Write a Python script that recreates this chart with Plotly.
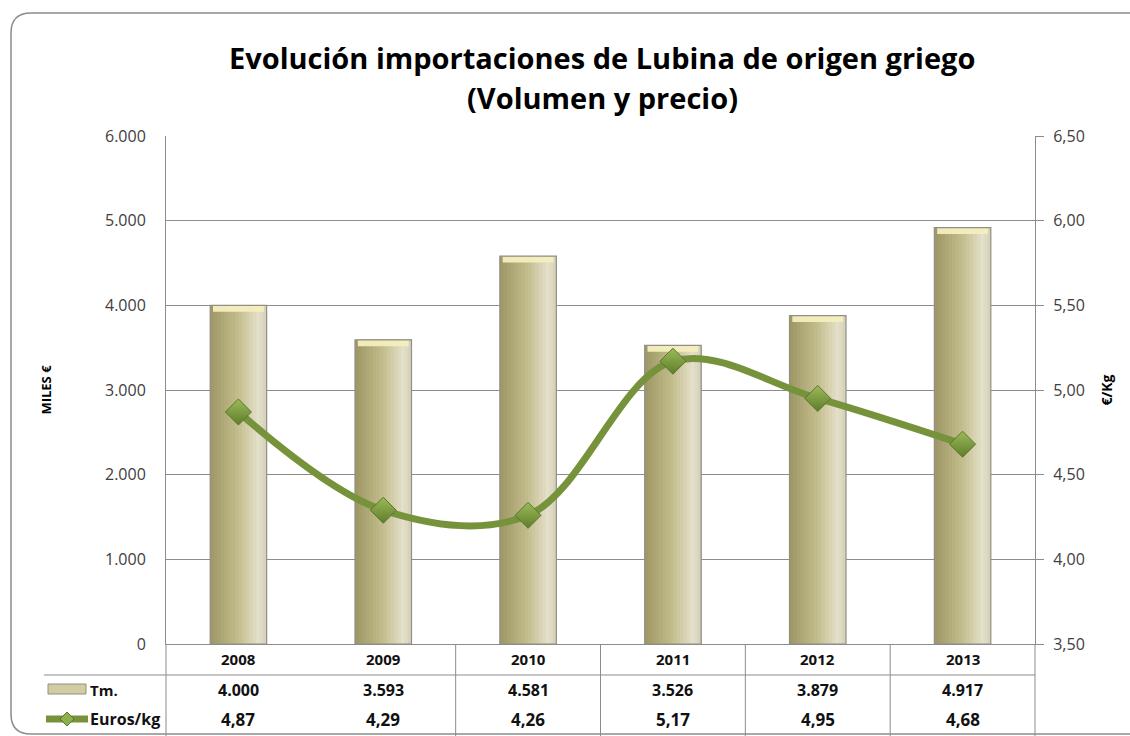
import plotly.graph_objects as go

years = ["2008", "2009", "2010", "2011", "2012", "2013"]
tm = [4000, 3593, 4581, 3526, 3879, 4917]
euros_kg = [4.87, 4.29, 4.26, 5.17, 4.95, 4.68]
left_ticks = [0, 1000, 2000, 3000, 4000, 5000, 6000]
right_ticks = [3.5, 4.0, 4.5, 5.0, 5.5, 6.0, 6.5]

W, H = 1130, 736
L, R, T, B = 166, 1035, 136, 644

def px(x, y):
    return (x - L) / (R - L), (B - y) / (B - T)

def fmt_thousands(v):
    return f"{v:,.0f}".replace(",", ".")

def fmt_dec(v):
    return f"{v:.2f}".replace(".", ",")

FONT = "Open Sans"
fig = go.Figure()

# bar gradient slices (each slice extends to right edge to avoid seams)
bw = 0.39
N = 16
stops = [(0.0, (158, 150, 100)), (0.5, (196, 190, 142)), (0.85, (228, 224, 202)), (1.0, (212, 208, 184))]
def grad(t):
    for (ta, ca), (tb, cb) in zip(stops[:-1], stops[1:]):
        if ta <= t <= tb:
            f = (t - ta) / (tb - ta)
            return tuple(int(ca[k] + (cb[k] - ca[k]) * f) for k in range(3))
    return stops[-1][1]
for i in range(N):
    t = (i + 0.5) / N
    col = grad(t)
    fig.add_trace(go.Bar(
        x=years, y=tm, width=bw - i * bw / N, offset=-bw / 2 + i * bw / N,
        marker=dict(color=f"rgb{col}", line=dict(width=0)),
        showlegend=False, hoverinfo="skip", yaxis="y"))
# top bevel
bev = 75
fig.add_trace(go.Bar(
    x=years, y=[bev] * len(tm), base=[v - bev for v in tm], width=bw * 0.9, offset=-bw * 0.45,
    marker=dict(color="rgba(244,238,190,0.95)", line=dict(width=0)),
    showlegend=False, hoverinfo="skip"))
# outline
fig.add_trace(go.Bar(
    x=years, y=tm, width=bw, offset=-bw / 2, name="Tm.",
    marker=dict(color="rgba(0,0,0,0)", line=dict(color="#8f8f86", width=1.2)),
    showlegend=False))

fig.add_trace(go.Scatter(
    x=years, y=euros_kg, yaxis="y2", name="Euros/kg",
    mode="lines+markers", line=dict(color="#76933c", width=7, shape="spline", smoothing=1),
    marker=dict(symbol="diamond", size=20, color="#9bbb59",
                gradient=dict(type="vertical", color="#5f7d2a"),
                line=dict(color="#5b7330", width=1)),
    showlegend=False))

shapes = []
x0, y0, x1, y1, r = 11, 13, 1145, 734, 20
def P(x, y):
    a, b = px(x, y)
    return f"{a:.5f},{b:.5f}"
path = (f"M {P(x0, y0 + r)} Q {P(x0, y0)} {P(x0 + r, y0)} L {P(x1, y0)} "
        f"L {P(x1, y1)} L {P(x0 + r, y1)} Q {P(x0, y1)} {P(x0, y1 - r)} Z")
shapes.append(dict(type="path", path=path, xref="paper", yref="paper",
                   line=dict(color="#8c8c8c", width=1.5), layer="below"))

ybot = px(0, 736)[1]
for k in [0, 2, 3, 4, 5, 6]:
    shapes.append(dict(type="line", xref="paper", yref="paper", x0=k / 6, x1=k / 6,
                       y0=0, y1=ybot, line=dict(color="#8c8c8c", width=1)))
hx0, hy = px(44, 675)
shapes.append(dict(type="line", xref="paper", yref="paper", x0=hx0, x1=1, y0=hy, y1=hy,
                   line=dict(color="#8c8c8c", width=1)))
# legend key: bar icon
a0, b0 = px(48, 684)
a1, b1 = px(86, 694)
shapes.append(dict(type="rect", xref="paper", yref="paper", x0=a0, x1=a1, y0=b1, y1=b0,
                   fillcolor="#d2cca2", line=dict(color="#8f8f86", width=1)))
# legend key: line icon
a0, b0 = px(46, 719)
a1, _ = px(88, 719)
shapes.append(dict(type="line", xref="paper", yref="paper", x0=a0, x1=a1, y0=b0, y1=b0,
                   line=dict(color="#76933c", width=7)))
cx, cy, d = 67, 719, 7
dpath = f"M {P(cx, cy - d)} L {P(cx + d, cy)} L {P(cx, cy + d)} L {P(cx - d, cy)} Z"
shapes.append(dict(type="path", path=dpath, xref="paper", yref="paper",
                   fillcolor="#8fb04e", line=dict(color="#5b7330", width=1)))

annotations = []
tx = px(602, 0)[0]
annotations.append(dict(x=tx, y=px(0, 57)[1], xref="paper", yref="paper", xanchor="center", yanchor="middle",
                        text="<b>Evolución importaciones de Lubina de origen griego</b>", showarrow=False,
                        font=dict(family=FONT, size=29, color="#000")))
annotations.append(dict(x=tx, y=px(0, 98)[1], xref="paper", yref="paper", xanchor="center", yanchor="middle",
                        text="<b>(Volumen y precio)</b>", showarrow=False,
                        font=dict(family=FONT, size=29, color="#000")))
row_y = {"year": px(0, 659)[1], "tm": px(0, 690)[1], "eu": px(0, 719)[1]}
for i, yv in enumerate(years):
    xc = (i + 0.5) / 6
    annotations.append(dict(x=xc, y=row_y["year"], xref="paper", yref="paper", text=f"<b>{yv}</b>",
                            xanchor="center", yanchor="middle",
                            showarrow=False, font=dict(family=FONT, size=15, color="#111")))
    annotations.append(dict(x=xc, y=row_y["tm"], xref="paper", yref="paper",
                            text=f"<b>{fmt_thousands(tm[i])}</b>", xanchor="center", yanchor="middle",
                            showarrow=False, font=dict(family=FONT, size=16, color="#111")))
    annotations.append(dict(x=xc, y=row_y["eu"], xref="paper", yref="paper",
                            text=f"<b>{fmt_dec(euros_kg[i])}</b>", xanchor="center", yanchor="middle",
                            showarrow=False, font=dict(family=FONT, size=17, color="#111")))
lx = px(88, 0)[0]
annotations.append(dict(x=lx, y=row_y["tm"], xref="paper", yref="paper", text="<b>Tm.</b>",
                        xanchor="left", yanchor="middle", showarrow=False,
                        font=dict(family=FONT, size=15, color="#111")))
annotations.append(dict(x=lx, y=row_y["eu"], xref="paper", yref="paper", text="<b>Euros/kg</b>",
                        xanchor="left", yanchor="middle", showarrow=False,
                        font=dict(family=FONT, size=16, color="#111")))

fig.update_layout(
    width=W, height=H,
    margin=dict(l=L, r=W - R, t=T, b=H - B),
    paper_bgcolor="white", plot_bgcolor="white",
    barmode="overlay", separators=",.",
    xaxis=dict(type="category", range=[-0.5, 5.5], showticklabels=False, showgrid=False,
               showline=True, linecolor="#8c8c8c", zeroline=False, ticks=""),
    yaxis=dict(range=[0, 6000], tickvals=left_ticks, ticktext=[fmt_thousands(v) for v in left_ticks],
               showgrid=True, gridcolor="#8c8c8c", gridwidth=1, showline=True, linecolor="#8c8c8c",
               ticks="", ticklabelstandoff=16, zeroline=False,
               tickfont=dict(family=FONT, size=16, color="#404040"),
               title=dict(text="<b>MILES €</b>", font=dict(family=FONT, size=13, color="#000"), standoff=50)),
    yaxis2=dict(range=[3.5, 6.5], tickvals=right_ticks, ticktext=[fmt_dec(v) for v in right_ticks],
                overlaying="y", side="right", showgrid=False, showline=True, linecolor="#8c8c8c",
                ticks="outside", ticklen=8, tickcolor="#8c8c8c", ticklabelstandoff=6, zeroline=False,
                tickfont=dict(family=FONT, size=16, color="#404040"),
                title=dict(text="<b>€/Kg</b>", font=dict(family=FONT, size=14, color="#000"), standoff=18)),
    shapes=shapes, annotations=annotations,
)

fig.write_html("out.html", config={"displayModeBar": False},
               post_script="document.body.style.margin='0';document.body.style.padding='0';")
